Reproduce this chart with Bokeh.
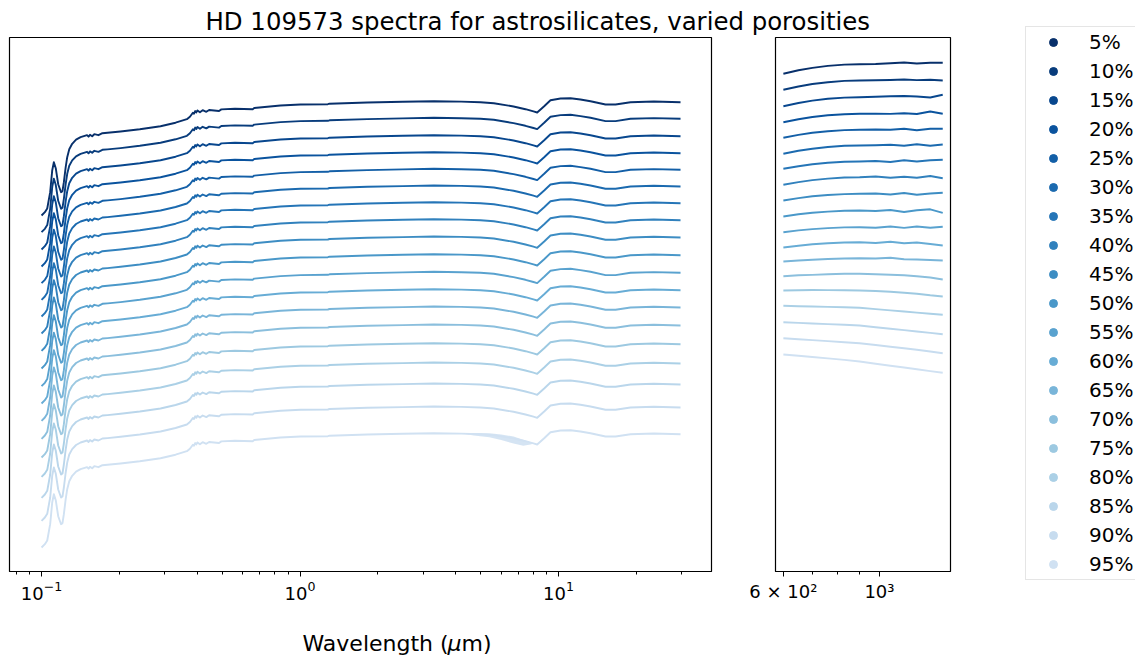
import numpy as np
from bokeh.plotting import figure
from bokeh.models import Range1d, Legend, LegendItem, FixedTicker
from bokeh.layouts import row, column
from bokeh.core.properties import value
from bokeh.embed import file_html
from bokeh.resources import INLINE

# ---------------- data ----------------
porosity_labels = ["5%", "10%", "15%", "20%", "25%", "30%", "35%", "40%", "45%", "50%",
                   "55%", "60%", "65%", "70%", "75%", "80%", "85%", "90%", "95%"]

# UV-IR spectral shape (common to all porosities), relative to the 30 um level
uvir_wavelength_um = [0.1000, 0.1030, 0.1052, 0.1080, 0.1100, 0.1116, 0.1135, 0.1160, 0.1190, 0.1205,
                      0.1220, 0.1240, 0.1257, 0.1280, 0.1314, 0.1360, 0.1416, 0.1500, 0.1520, 0.1540,
                      0.1570, 0.1600, 0.1660, 0.1720, 0.1800, 0.2021, 0.2400, 0.2886, 0.3300, 0.3650,
                      0.3750, 0.3850, 0.3890, 0.3930, 0.3970, 0.4010, 0.4100, 0.4200, 0.4340, 0.4450,
                      0.4860, 0.4960, 0.5600, 0.6560, 0.6650, 0.8400, 1.0040, 1.2820, 1.3000, 1.8200,
                      2.5000, 3.2940, 4.2000, 4.9900, 5.6200, 6.7000, 7.4500, 8.0000, 8.2700, 8.8000,
                      9.3100, 10.180, 11.130, 12.160, 13.300, 15.200, 16.620, 18.990, 23.370, 29.650]
uvir_shape = [-11.33, -11.00, -10.63, -9.00, -6.80, -6.00, -6.60, -8.20, -9.00, -8.90,
              -8.00, -6.50, -5.50, -4.70, -4.16, -3.75, -3.50, -3.30, -3.45, -3.26,
              -3.40, -3.20, -3.30, -3.10, -3.06, -2.93, -2.70, -2.40, -2.05, -1.70,
              -1.45, -1.05, -1.15, -0.88, -1.02, -0.82, -1.00, -0.80, -0.96, -0.78,
              -0.88, -0.72, -0.66, -0.70, -0.58, -0.33, -0.23, -0.20, -0.15, -0.03,
              0.04, 0.10, 0.06, 0.00, -0.10, -0.43, -0.70, -0.92, -1.03, -0.40,
              0.20, 0.37, 0.40, 0.27, 0.10, -0.23, -0.23, 0.00, 0.07, 0.00]
uvir_offset = [46.93, 45.27, 43.53, 41.83, 40.17, 38.50, 36.83, 35.13, 33.40, 31.63,
               29.87, 28.13, 26.40, 24.60, 22.73, 20.80, 18.70, 16.40, 13.73]

# noisy stretch of the 95% spectrum (band around its line)
noise95_wavelength_um = [4.30, 4.70, 5.40, 6.00, 6.70, 7.30, 7.80, 8.00]
noise95_upper = [0.00, 0.10, 0.15, 0.20, 0.20, 0.10, 0.00, 0.00]
noise95_lower = [0.00, -0.15, -0.25, -0.35, -0.50, -0.50, -0.20, 0.00]

# sub-mm part, one list per porosity
submm_wavelength_um = [600, 650, 700, 760, 830, 900, 980, 1060, 1140, 1220, 1310, 1400]
submm_05 = [49.77, 50.12, 50.36, 50.56, 50.69, 50.73, 50.75, 50.82, 50.90, 50.80, 50.88, 50.87]
submm_10 = [48.17, 48.50, 48.75, 48.93, 49.06, 49.10, 49.12, 49.15, 49.20, 49.14, 49.18, 49.10]
submm_15 = [46.53, 46.85, 47.09, 47.27, 47.39, 47.43, 47.47, 47.52, 47.55, 47.50, 47.40, 47.67]
submm_20 = [44.93, 45.23, 45.45, 45.62, 45.73, 45.77, 45.78, 45.76, 45.82, 45.75, 46.00, 45.77]
submm_25 = [43.37, 43.66, 43.87, 44.03, 44.14, 44.17, 44.20, 44.18, 44.28, 44.12, 44.27, 44.27]
submm_30 = [41.77, 42.07, 42.28, 42.45, 42.57, 42.60, 42.62, 42.67, 42.58, 42.72, 42.58, 42.70]
submm_35 = [40.27, 40.53, 40.72, 40.87, 40.97, 41.00, 41.05, 40.95, 41.12, 41.00, 41.13, 41.17]
submm_40 = [38.67, 38.94, 39.14, 39.29, 39.40, 39.43, 39.50, 39.38, 39.48, 39.38, 39.55, 39.33]
submm_45 = [37.10, 37.34, 37.52, 37.65, 37.74, 37.77, 37.80, 37.70, 37.85, 37.68, 37.80, 37.87]
submm_50 = [35.50, 35.72, 35.87, 35.99, 36.07, 36.10, 36.05, 36.15, 35.95, 36.12, 36.22, 35.87]
submm_55 = [33.93, 34.11, 34.24, 34.34, 34.41, 34.43, 34.38, 34.50, 34.36, 34.50, 34.38, 34.47]
submm_60 = [32.40, 32.58, 32.72, 32.83, 32.90, 32.93, 32.85, 32.97, 32.82, 32.90, 32.75, 32.60]
submm_65 = [31.00, 31.10, 31.18, 31.25, 31.30, 31.33, 31.30, 31.37, 31.22, 31.20, 31.15, 31.10]
submm_70 = [29.53, 29.62, 29.66, 29.72, 29.78, 29.77, 29.72, 29.68, 29.63, 29.52, 29.40, 29.20]
submm_75 = [28.10, 28.12, 28.15, 28.14, 28.12, 28.10, 28.05, 27.98, 27.88, 27.78, 27.62, 27.50]
submm_80 = [26.57, 26.53, 26.50, 26.46, 26.42, 26.37, 26.24, 26.11, 26.00, 25.89, 25.78, 25.67]
submm_85 = [24.93, 24.86, 24.80, 24.74, 24.67, 24.60, 24.43, 24.28, 24.14, 24.00, 23.86, 23.73]
submm_90 = [23.33, 23.23, 23.14, 23.04, 22.93, 22.83, 22.65, 22.48, 22.32, 22.17, 22.00, 21.83]
submm_95 = [21.70, 21.57, 21.45, 21.31, 21.16, 21.00, 20.78, 20.58, 20.40, 20.22, 20.04, 19.87]
submm_series = [submm_05, submm_10, submm_15, submm_20, submm_25, submm_30, submm_35, submm_40,
                submm_45, submm_50, submm_55, submm_60, submm_65, submm_70, submm_75, submm_80,
                submm_85, submm_90, submm_95]

title_text = "HD 109573 spectra for astrosilicates, varied porosities"
xlabel_parts = ["Wavelength (", "\u03bc", "m)"]

# ---------------- colours: matplotlib "Blues" sampled ----------------
blues_stops = [(0.0, "#f7fbff"), (0.125, "#deebf7"), (0.25, "#c6dbef"), (0.375, "#9ecae1"),
               (0.5, "#6baed6"), (0.625, "#4292c6"), (0.75, "#2171b5"), (0.875, "#08519c"),
               (1.0, "#08306b")]


def blues(t):
    for (t0, c0), (t1, c1) in zip(blues_stops[:-1], blues_stops[1:]):
        if t0 <= t <= t1:
            f = (t - t0) / (t1 - t0)
            a = [int(c0[i:i + 2], 16) for i in (1, 3, 5)]
            b = [int(c1[i:i + 2], 16) for i in (1, 3, 5)]
            return "#%02x%02x%02x" % tuple(round(a[k] + f * (b[k] - a[k])) for k in range(3))
    return blues_stops[-1][1]


n = len(porosity_labels)
colors = [blues(1.0 - 0.8 * i / (n - 1)) for i in range(n)]

FONT = "DejaVu Sans"


def style(p):
    p.outline_line_color = "black"
    p.outline_line_width = 1.2
    p.xgrid.visible = False
    p.ygrid.visible = False
    ax = p.xaxis[0]
    ax.axis_line_color = "black"
    ax.major_tick_line_color = "black"
    ax.minor_tick_line_color = "black"
    ax.major_tick_out = 5
    ax.major_tick_in = 0
    ax.minor_tick_out = 3
    ax.minor_tick_in = 0
    ax.major_label_text_font = FONT
    ax.major_label_text_font_size = "18px"
    ax.major_label_text_color = "black"
    ax.major_label_standoff = 4


def strip(width, height):
    s = figure(width=width, height=height, toolbar_location=None, output_backend="svg",
               x_range=Range1d(0, width), y_range=Range1d(0, height),
               x_axis_location=None, y_axis_location=None, min_border=0)
    s.outline_line_color = None
    s.xgrid.visible = False
    s.ygrid.visible = False
    return s


# ---------------- title strip ----------------
ptitle = strip(960, 35)
ptitle.text(x=[205], y=[14], text=[title_text], text_font=value(FONT),
            text_font_size=value("24.4px"), text_color="black",
            text_align="left", text_baseline="alphabetic")

# ---------------- left panel ----------------
p1 = figure(width=743, height=576, x_axis_type="log",
            x_range=Range1d(0.07517, 39.07), y_range=Range1d(0, 53.4),
            y_axis_location=None, toolbar_location=None, output_backend="svg",
            min_border_left=9, min_border_right=32, min_border_top=2, min_border_bottom=40)
style(p1)
shape = np.array(uvir_shape)
for i in range(n):
    p1.line(uvir_wavelength_um, shape + uvir_offset[i], line_color=colors[i], line_width=1.9,
            line_join="round")
base95 = np.interp(np.log10(noise95_wavelength_um), np.log10(uvir_wavelength_um), shape) + uvir_offset[-1]
p1.varea(x=noise95_wavelength_um, y1=base95 + np.array(noise95_lower),
         y2=base95 + np.array(noise95_upper), fill_color=colors[-1], fill_alpha=0.9)

# ---------------- right panel ----------------
p2 = figure(width=217, height=576, x_axis_type="log",
            x_range=Range1d(575.4, 1459), y_range=Range1d(0, 53.4),
            y_axis_location=None, toolbar_location=None, output_backend="svg",
            min_border_left=32, min_border_right=10, min_border_top=2, min_border_bottom=40)
style(p2)
p2.xaxis[0].ticker = FixedTicker(ticks=[600, 1000], minor_ticks=[700, 800, 900])
p2.xaxis[0].major_label_overrides = {600: "6 \u00d7 10\u00b2", 1000: "10\u00b3"}
for i in range(n):
    p2.line(submm_wavelength_um, submm_series[i], line_color=colors[i], line_width=1.9,
            line_join="round")

# ---------------- x label strip ----------------
pbottom = strip(960, 46)
XL_Y = 14
pbottom.text(x=[302], y=[XL_Y], text=[xlabel_parts[0]], text_font=value(FONT),
             text_font_size=value("22px"), text_color="black", text_align="left",
             text_baseline="alphabetic")
pbottom.text(x=[447], y=[XL_Y], text=[xlabel_parts[1]], text_font=value(FONT),
             text_font_size=value("22px"), text_font_style="italic", text_color="black",
             text_align="left", text_baseline="alphabetic")
pbottom.text(x=[461], y=[XL_Y], text=[xlabel_parts[2]], text_font=value(FONT),
             text_font_size=value("22px"), text_color="black", text_align="left",
             text_baseline="alphabetic")

# ---------------- legend panel ----------------
p3 = strip(175, 657)
items = []
for i in range(n):
    r = p3.scatter(x=[-50], y=[-50], size=8, fill_color=colors[i], line_color=colors[i])
    items.append(LegendItem(label=porosity_labels[i], renderers=[r]))
legend = Legend(items=items, location=(65, 77), orientation="vertical",
                label_text_font=FONT, label_text_font_size="20px", label_text_color="black",
                glyph_width=48, glyph_height=20, label_height=20, label_standoff=12,
                padding=3, spacing=5, margin=0,
                border_line_color="#cccccc", border_line_width=1,
                background_fill_color="white", background_fill_alpha=1.0)
p3.add_layout(legend)

layout = row(column(ptitle, row(p1, p2), pbottom), p3)
open("out.html", "w").write(file_html(layout, INLINE))
